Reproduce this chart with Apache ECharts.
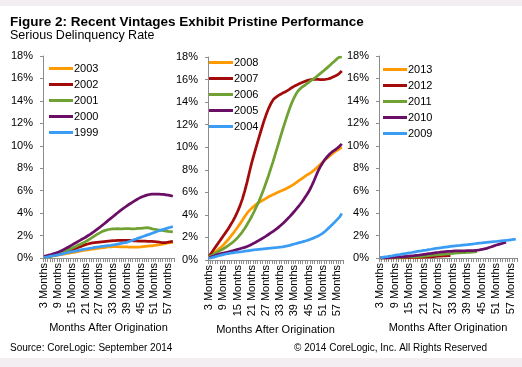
<!DOCTYPE html>
<html><head><meta charset="utf-8">
<script src="https://cdn.jsdelivr.net/npm/echarts@6/dist/echarts.min.js"></script>
<style>html,body{margin:0;padding:0;background:#fff}#c{width:522px;height:367px}</style>
</head><body><div id="c"></div>
<script>
const FONT = '"Liberation Sans", Arial, sans-serif';
const months = [3,4,5,6,7,8,9,10,11,12,13,14,15,16,17,18,19,20,21,22,23,24,25,26,27,28,29,30,31,32,33,34,35,36,37,38,39,40,41,42,43,44,45,46,47,48,49,50,51,52,53,54,55,56,57,58,59];
const monthLabels = months.map(m => m + ' Months');
const yMin = 0, yMax = 18, yStep = 2;

// Panel 1 vintages
const panel1Names = ['2003','2002','2001','2000','1999'];
const v2003 = [.05,.08,.11,.14,.18,.21,.25,.29,.33,.37,.40,.44,.47,.51,.55,.59,.63,.67,.70,.73,.76,.79,.82,.85,.88,.90,.93,.96,.98,1.0,1.02,1.02,1.01,1.0,1.0,.99,.99,.98,.98,.97,.97,.98,.99,1.01,1.03,1.05,1.07,1.09,1.12,1.15,1.18,1.22,1.26,1.30,1.34,1.37,1.40];
const v2002 = [.08,.11,.15,.19,.24,.29,.35,.41,.47,.53,.59,.65,.71,.79,.87,.95,1.03,1.11,1.19,1.25,1.30,1.34,1.37,1.40,1.42,1.44,1.46,1.48,1.50,1.52,1.54,1.55,1.56,1.57,1.57,1.58,1.58,1.57,1.55,1.53,1.52,1.51,1.50,1.50,1.50,1.49,1.49,1.48,1.47,1.44,1.41,1.38,1.37,1.38,1.41,1.45,1.48];
const v2001 = [.10,.13,.17,.22,.28,.34,.40,.47,.55,.63,.71,.79,.87,.96,1.05,1.15,1.25,1.35,1.46,1.58,1.71,1.84,1.97,2.10,2.22,2.33,2.42,2.49,2.54,2.57,2.59,2.60,2.61,2.60,2.60,2.61,2.62,2.61,2.60,2.60,2.61,2.63,2.64,2.66,2.68,2.70,2.66,2.60,2.56,2.52,2.49,2.46,2.43,2.40,2.37,2.35,2.33];
const v2000 = [.15,.20,.25,.30,.37,.43,.50,.60,.70,.80,.92,1.03,1.15,1.27,1.38,1.50,1.62,1.73,1.85,1.98,2.11,2.25,2.40,2.55,2.70,2.87,3.03,3.20,3.37,3.53,3.70,3.87,4.03,4.20,4.35,4.50,4.65,4.79,4.92,5.05,5.17,5.29,5.40,5.48,5.56,5.62,5.66,5.69,5.70,5.70,5.69,5.68,5.66,5.63,5.60,5.56,5.50];
const v1999 = [.05,.08,.12,.16,.20,.23,.27,.32,.37,.42,.47,.52,.56,.60,.64,.68,.72,.76,.80,.83,.87,.90,.94,.97,1.0,1.03,1.05,1.08,1.11,1.13,1.16,1.20,1.24,1.28,1.32,1.36,1.40,1.47,1.54,1.62,1.69,1.77,1.84,1.91,1.99,2.06,2.13,2.21,2.28,2.36,2.43,2.50,2.56,2.62,2.68,2.74,2.80];

// Panel 2 vintages
const panel2Names = ['2008','2007','2006','2005','2004'];
const v2008 = [.30,.45,.62,.80,.96,1.12,1.34,1.57,1.80,2.07,2.33,2.62,2.90,3.20,3.52,3.85,4.15,4.40,4.60,4.78,4.95,5.10,5.22,5.34,5.46,5.60,5.70,5.80,5.90,6.00,6.10,6.18,6.28,6.38,6.50,6.62,6.75,6.90,7.05,7.20,7.35,7.50,7.62,7.75,7.92,8.10,8.30,8.50,8.70,8.90,9.08,9.25,9.42,9.58,9.72,9.86,10.0];
const v2007 = [.35,.65,.95,1.25,1.55,1.85,2.15,2.45,2.75,3.10,3.45,3.85,4.30,4.80,5.40,6.10,6.90,7.80,8.65,9.40,10.15,10.85,11.55,12.25,12.85,13.40,13.85,14.20,14.40,14.55,14.68,14.80,14.90,15.02,15.15,15.30,15.42,15.52,15.62,15.72,15.80,15.88,15.95,16.0,16.02,16.03,16.02,16.0,16.0,16.02,16.05,16.10,16.20,16.30,16.40,16.55,16.75];
const v2006 = [.30,.40,.52,.64,.76,.88,1.0,1.13,1.27,1.42,1.58,1.77,1.98,2.22,2.50,2.80,3.15,3.50,3.88,4.30,4.75,5.20,5.72,6.25,6.85,7.45,8.10,8.75,9.45,10.15,10.85,11.55,12.20,12.85,13.45,14.0,14.45,14.85,15.10,15.30,15.45,15.60,15.75,15.90,16.05,16.20,16.38,16.55,16.72,16.90,17.08,17.27,17.46,17.65,17.85,18.0,18.0];
const v2005 = [.20,.28,.36,.43,.50,.56,.61,.66,.71,.76,.82,.88,.94,1.0,1.06,1.12,1.20,1.29,1.39,1.50,1.62,1.74,1.86,1.99,2.12,2.26,2.40,2.54,2.69,2.85,3.03,3.22,3.42,3.63,3.85,4.08,4.32,4.57,4.83,5.10,5.40,5.72,6.05,6.45,6.90,7.40,7.90,8.30,8.65,8.95,9.20,9.42,9.60,9.75,9.90,10.08,10.30];
const v2004 = [.14,.20,.26,.32,.38,.43,.48,.53,.57,.61,.64,.67,.70,.73,.75,.78,.81,.84,.87,.90,.93,.95,.97,.99,1.01,1.03,1.05,1.07,1.09,1.11,1.14,1.17,1.21,1.25,1.30,1.36,1.42,1.48,1.54,1.59,1.65,1.71,1.78,1.86,1.94,2.03,2.13,2.25,2.38,2.55,2.74,2.94,3.15,3.36,3.58,3.80,4.12];

// Panel 3 vintages (shorter histories)
const panel3Names = ['2013','2012','2011','2010','2009'];
const v2013 = [0,0,0,0,0,.01,.01,.01,.01,.01,.02,.02,.02,.02,.03,.03,.03,.03];
const v2012 = [0,0,0,0,.01,.01,.01,.02,.02,.03,.03,.04,.04,.05,.05,.06,.06,.07,.08,.09,.10,.11,.13,.14,.16,.17,.19,.20,.21,.22];
const v2011 = [0,0,.01,.01,.02,.02,.03,.04,.05,.06,.07,.08,.09,.10,.11,.12,.13,.15,.17,.19,.21,.23,.25,.27,.29,.31,.33,.35,.37,.39,.41,.43,.45,.46,.47,.48,.49,.50,.52,.54,.56];
const v2010 = [0,.01,.02,.03,.04,.05,.06,.08,.09,.11,.13,.15,.17,.19,.21,.24,.26,.29,.32,.35,.38,.41,.44,.47,.49,.52,.54,.56,.58,.60,.62,.63,.63,.64,.64,.64,.65,.65,.66,.67,.69,.72,.76,.81,.86,.93,1.0,1.08,1.16,1.22,1.28,1.34,1.40];
const v2009 = [.02,.06,.10,.13,.17,.20,.24,.28,.31,.35,.38,.42,.46,.49,.53,.57,.61,.64,.68,.71,.75,.78,.82,.85,.88,.91,.94,.97,1.0,1.03,1.06,1.08,1.10,1.12,1.15,1.17,1.19,1.22,1.24,1.27,1.30,1.32,1.34,1.37,1.39,1.41,1.43,1.45,1.47,1.50,1.52,1.54,1.56,1.59,1.62,1.65,1.69];

const colors = ['#FF9A00', '#A30B0B', '#6FA232', '#6A0E66', '#3A9CF4'];
const panels = [
  {names: panel1Names, data: [v2003, v2002, v2001, v2000, v1999], grid: {left: 43, right: 348, top: 56, bottom: 109}, legend: {left: 49, top: 62}},
  {names: panel2Names, data: [v2008, v2007, v2006, v2005, v2004], grid: {left: 208, right: 179, top: 57, bottom: 107}, legend: {left: 209, top: 56}},
  {names: panel3Names, data: [v2013, v2012, v2011, v2010, v2009], grid: {left: 379, right: 5, top: 56, bottom: 109}, legend: {left: 383, top: 63}}
];

const axisColor = '#8c8c8c';
const option = {
  animation: false,
  backgroundColor: '#fff',
  grid: panels.map(p => p.grid),
  xAxis: panels.map((p, i) => ({
    type: 'category', gridIndex: i, data: monthLabels, boundaryGap: true,
    name: 'Months After Origination', nameLocation: 'middle', nameGap: 62,
    nameTextStyle: {fontSize: 11, color: '#000', fontFamily: FONT},
    axisLine: {lineStyle: {color: axisColor, width: 1}},
    axisTick: {show: true, interval: 0, length: 4, lineStyle: {color: axisColor}},
    axisLabel: {interval: 5, rotate: 90, fontSize: 11, color: '#000', fontFamily: FONT, margin: 5},
    splitLine: {show: false}
  })),
  yAxis: panels.map((p, i) => ({
    type: 'value', gridIndex: i, min: yMin, max: yMax, interval: yStep,
    axisLine: {show: true, lineStyle: {color: axisColor, width: 1}},
    axisTick: {show: true, length: 3, lineStyle: {color: axisColor}},
    axisLabel: {formatter: '{value}%', fontSize: 11, color: '#000', fontFamily: FONT, margin: 10},
    splitLine: {show: false}
  })),
  legend: panels.map(p => ({
    data: p.names, orient: 'vertical', left: p.legend.left, top: p.legend.top,
    icon: 'rect', itemWidth: 24, itemHeight: 3, itemGap: 3, padding: 0,
    textStyle: {fontSize: 11, color: '#000', fontFamily: FONT, lineHeight: 13, padding: [0, 0, 0, -4]}
  })),
  series: [],
  graphic: [
    {type: 'rect', left: 0, top: 0, shape: {width: 522, height: 6}, style: {fill: '#f2eef2'}},
    {type: 'rect', left: 0, top: 358, shape: {width: 522, height: 9}, style: {fill: '#f2eef2'}},
    {type: 'text', left: 10, top: 15, style: {text: 'Figure 2: Recent Vintages Exhibit Pristine Performance', fontSize: 13.5, fontWeight: 'bold', fontFamily: FONT, fill: '#000'}},
    {type: 'text', left: 10, top: 29, style: {text: 'Serious Delinquency Rate', fontSize: 12.5, fontFamily: FONT, fill: '#000'}},
    {type: 'text', left: 10, top: 343, style: {text: 'Source: CoreLogic: September 2014', fontSize: 10, fontFamily: FONT, fill: '#000'}},
    {type: 'text', right: 35, top: 343, style: {text: '\u00A9 2014 CoreLogic, Inc. All Rights Reserved', fontSize: 10, fontFamily: FONT, fill: '#000'}}
  ]
};
panels.forEach((p, i) => {
  p.names.forEach((n, k) => {
    option.series.push({
      name: n, type: 'line', xAxisIndex: i, yAxisIndex: i, data: p.data[k],
      symbol: 'none', showSymbol: false, smooth: false,
      color: colors[k], lineStyle: {width: 2.75, color: colors[k]}
    });
  });
});
const chart = echarts.init(document.getElementById('c'), null, {renderer: 'canvas'});
chart.setOption(option);
</script></body></html>
